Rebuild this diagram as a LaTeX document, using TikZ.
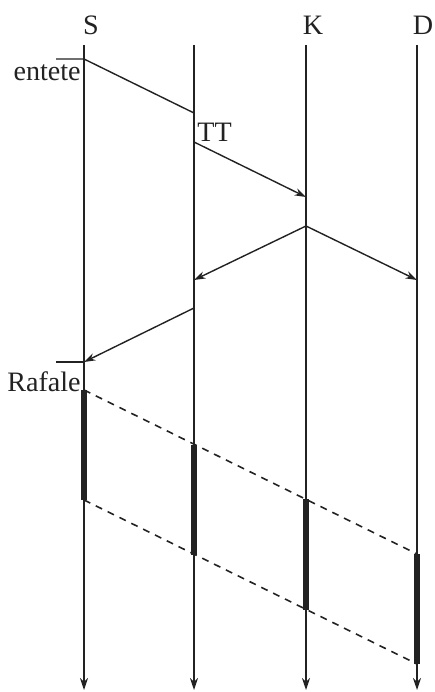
\documentclass[tikz,border=0pt]{standalone}
\usepackage{fontspec}
\setmainfont{Liberation Serif}
\usetikzlibrary{arrows.meta, positioning, calc}
\usepackage{xcolor}
\definecolor{InkA}{HTML}{222222}
\tikzset{
  life/.style={-{Stealth[length=2.4mm, width=1.6mm]}, line width=0.8pt, draw=InkA},
  msg/.style={-{Stealth[length=2.3mm, width=1.5mm]}, line width=0.8pt, draw=InkA},
  plain/.style={line width=0.8pt, draw=InkA},
  burst/.style={line width=3.8pt, draw=InkA},
  slope/.style={line width=0.9pt, draw=InkA, dash pattern=on 4pt off 3.5pt},
  who/.style={font=\fontsize{16}{18}\selectfont, inner sep=0pt, text=InkA},
  tag/.style={font=\fontsize{16}{18}\selectfont, inner sep=0pt, text=InkA},
}

\begin{document}
\begin{tikzpicture}[x=0.02cm, y=-0.02cm]
    \useasboundingbox (0,0) rectangle (435,692);
    % lifelines
    \coordinate (sT) at (84,45);  \coordinate (sB) at (84,690);
    \coordinate (tT) at (194,45); \coordinate (tB) at (194,690);
    \coordinate (kT) at (306,45); \coordinate (kB) at (306,690);
    \coordinate (dT) at (417,45); \coordinate (dB) at (417,690);
    \node[who] (S) at (91,25) {S};
    \node[who] (K) at (313,25) {K};
    \node[who] (D) at (423,25) {D};
    \draw[life] (sT) -- (sB); \draw[life] (tT) -- (tB);
    \draw[life] (kT) -- (kB); \draw[life] (dT) -- (dB);
    % header exchange
    \coordinate (e0) at (56,59);  \coordinate (e1) at (84,59);
    \coordinate (e2) at (194,113);
    \coordinate (t1) at (194,142); \coordinate (k1) at (306,197);
    \coordinate (k2) at (306,226);
    \coordinate (t2) at (194,280); \coordinate (d2) at (417,280);
    \coordinate (t3) at (194,308);
    \coordinate (r1) at (84,362); \coordinate (r0) at (56,362);
    \node[tag, anchor=east] (entete) at (81,73) {entete};
    \node[tag, anchor=west] (tt) at (197,132) {TT};
    \node[tag, anchor=east] (rafale) at (81,382) {Rafale};
    \draw[plain] (e0) -- (e1) -- (e2);
    \draw[msg] (t1) -- (k1);
    \draw[msg] (k2) -- (t2); \draw[msg] (k2) -- (d2);
    \draw[msg] (t3) -- (r1);
    \draw[plain] (r0) -- (r1);
    % burst
    \coordinate (s4) at (84,390);  \coordinate (s5) at (84,500);
    \coordinate (t4) at (194,445); \coordinate (t5) at (194,555);
    \coordinate (k4) at (306,499); \coordinate (k5) at (306,610);
    \coordinate (d4) at (417,554); \coordinate (d5) at (417,664);
    \draw[burst] (s4) -- (s5); \draw[burst] (t4) -- (t5);
    \draw[burst] (k4) -- (k5); \draw[burst] (d4) -- (d5);
    \draw[slope] (s4) -- (d4);
    \draw[slope] (s5) -- (d5);
  \end{tikzpicture}
\end{document}
